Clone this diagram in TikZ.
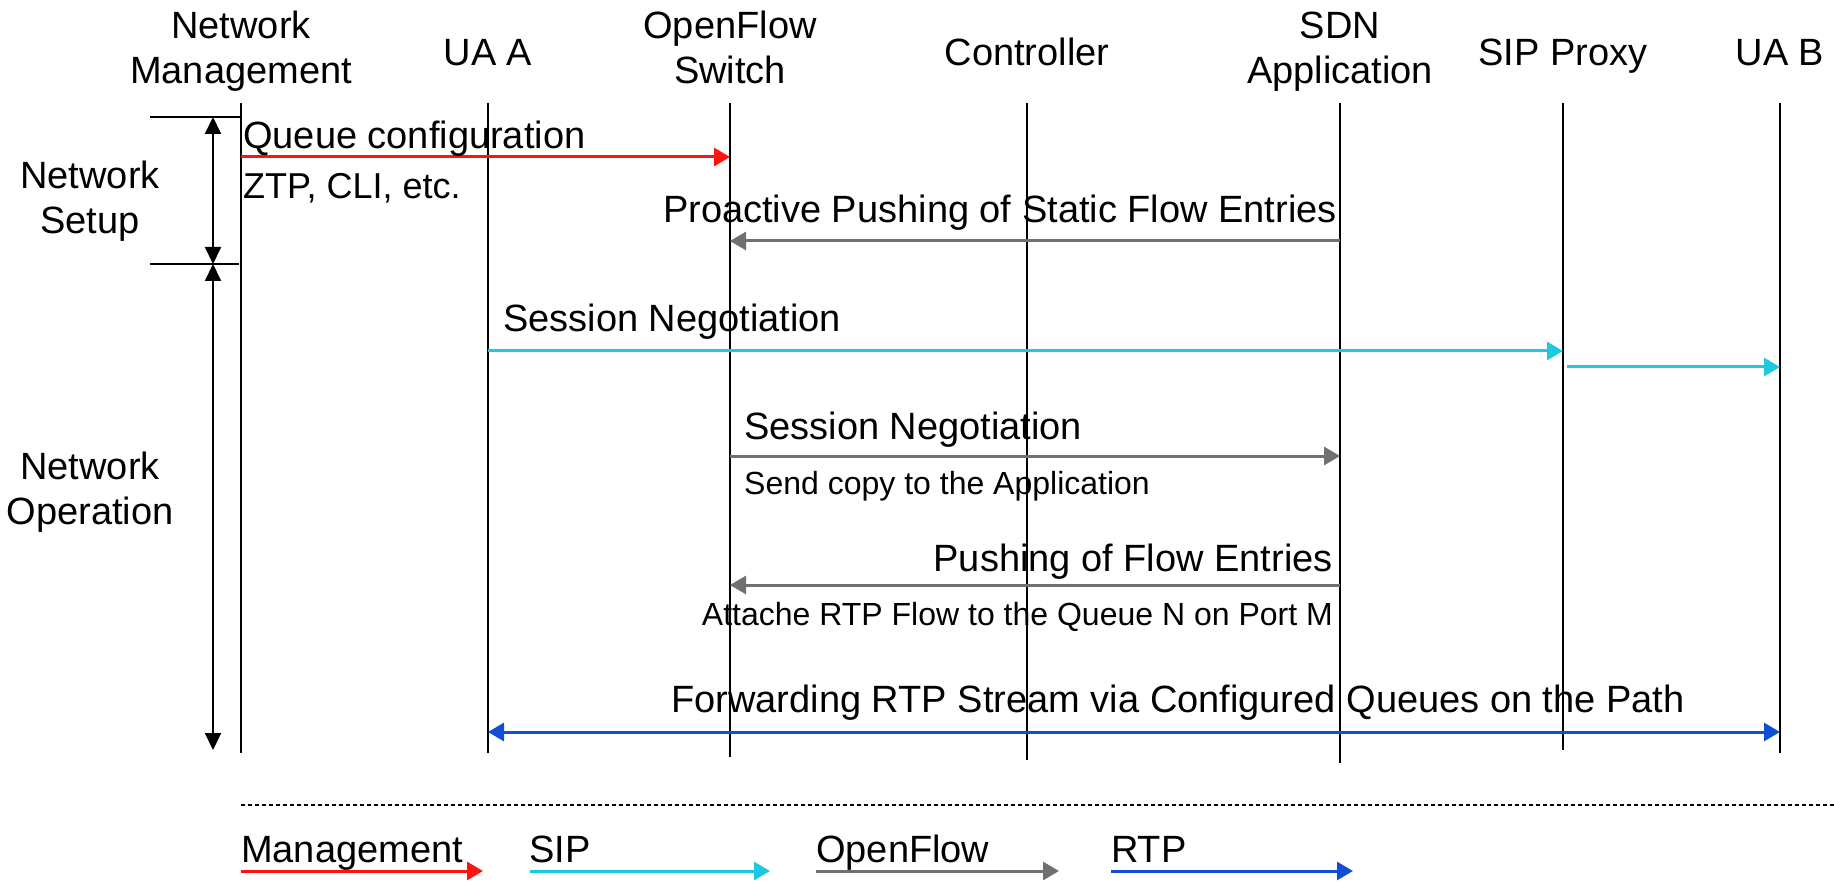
\documentclass[tikz,border=0pt]{standalone}
\usepackage{fontspec}
\setmainfont{Liberation Sans}
\usetikzlibrary{arrows.meta}
\definecolor{mgmtred}{RGB}{255,18,18}
\definecolor{sipcyan}{RGB}{30,200,222}
\definecolor{ofgray}{RGB}{112,112,112}
\definecolor{rtpblue}{RGB}{16,78,214}

\begin{document}
\begin{tikzpicture}[x=1pt,y=-1pt,
  lifeline/.style={line width=2pt,black},
  tip/.style={-{Triangle[length=16pt,width=18pt]}},
  msg/.style={line width=3pt,tip},
  mgmt/.style={msg,draw=mgmtred,-{Triangle[length=16pt,width=18pt,fill=mgmtred]}},
  sipmsg/.style={msg,draw=sipcyan},
  ofmsg/.style={msg,draw=ofgray},
  rtpmsg/.style={line width=3pt,draw=rtpblue,{Triangle[length=16pt,width=18pt]}-{Triangle[length=16pt,width=18pt]}},
  phase/.style={line width=2pt,black,{Triangle[length=17pt,width=16pt]}-{Triangle[length=17pt,width=16pt]}},
  tick/.style={line width=2pt,black},
  big/.style={font=\fontsize{38}{45}\selectfont,inner sep=0pt},
  mid/.style={font=\fontsize{36}{42}\selectfont,inner sep=0pt},
  small/.style={font=\fontsize{32}{38}\selectfont,inner sep=0pt},
  head/.style={big,align=center,anchor=base},
]
\useasboundingbox (0,0) rectangle (1834,882);

% participants (base = baseline of the last line)
\node[head] (hnm)  at (241,84)  {Network\\Management};
\node[head] (huaa) at (488,66)  {UA A};
\node[head] (hofs) at (730,84)  {OpenFlow\\Switch};
\node[head] (hctl) at (1027,66) {Controller};
\node[head] (hsdn) at (1340,84) {SDN\\Application};
\node[head] (hsip) at (1563,66) {SIP Proxy};
\node[head] (huab) at (1780,66) {UA B};

% lifelines
\coordinate (nm)  at (241,103);  \coordinate (nm-end)  at (241,753);
\coordinate (uaa) at (488,103);  \coordinate (uaa-end) at (488,753);
\coordinate (ofs) at (730,103);  \coordinate (ofs-end) at (730,757);
\coordinate (ctl) at (1027,103); \coordinate (ctl-end) at (1027,760);
\coordinate (sdn) at (1340,103); \coordinate (sdn-end) at (1340,763);
\coordinate (sip) at (1563,103); \coordinate (sip-end) at (1563,750);
\coordinate (uab) at (1780,103); \coordinate (uab-end) at (1780,753);
\foreach \p in {nm,uaa,ofs,ctl,sdn,sip,uab}
  \draw[lifeline] (\p) -- (\p-end);

% phases
\coordinate (setup-top) at (150,117);
\coordinate (setup-bot) at (150,264);
\coordinate (oper-bot)  at (150,750);
\draw[tick] (setup-top) -- (nm |- setup-top);
\draw[tick] (setup-bot) -- ([xshift=-2pt]nm |- setup-bot);
\coordinate (ph) at (213,0);
\draw[phase] (ph |- setup-top) -- (ph |- setup-bot);
\draw[phase] (ph |- setup-bot) -- (ph |- oper-bot);
\node[head] (setup) at (90,234) {Network\\Setup};
\node[head] (oper)  at (90,524) {Network\\Operation};

% message rows
\coordinate (m1) at (0,157);
\coordinate (m2) at (0,241);
\coordinate (m3) at (0,351);
\coordinate (m3b) at (0,367);
\coordinate (m4) at (0,456);
\coordinate (m5) at (0,585);
\coordinate (m6) at (0,732);

% queue configuration
\draw[mgmt] (nm |- m1) -- (ofs |- m1);
\node[big,anchor=base west] (q1) at (243,149) {Queue configuration};
\node[mid,anchor=base west] (q2) at (243,199) {ZTP, CLI, etc.};

% static flow entries
\draw[ofmsg] (sdn |- m2) -- (ofs |- m2);
\node[big,anchor=base east] (p1) at (1337,223) {Proactive Pushing of Static Flow Entries};

% SIP session negotiation
\draw[sipmsg] (uaa |- m3) -- (sip |- m3);
\draw[sipmsg] ([xshift=4pt]sip |- m3b) -- (uab |- m3b);
\node[big,anchor=base west] (s1) at (503,332) {Session Negotiation};

% copy to the application
\draw[ofmsg] (ofs |- m4) -- (sdn |- m4);
\node[big,anchor=base west] (s2) at (744,439) {Session Negotiation};
\node[small,anchor=base west] (s3) at (744,494) {Send copy to the Application};

% flow entries
\draw[ofmsg] (sdn |- m5) -- (ofs |- m5);
\node[big,anchor=base east] (f1) at (1333,571) {Pushing of Flow Entries};
\node[small,anchor=base east] (f2) at (1333,625) {Attache RTP Flow to the Queue N on Port M};

% media stream
\draw[rtpmsg] (uaa |- m6) -- (uab |- m6);
\node[big,anchor=base] (r1) at (1178,712) {Forwarding RTP Stream via Configured Queues on the Path};

% legend
\coordinate (sep-l) at (241,805);
\coordinate (sep-r) at (1834,805);
\draw[line width=2.5pt,dash pattern=on 4pt off 3pt] (sep-l) -- (sep-r);

\node[big,anchor=base west] (lg1) at (241,862) {Management};
\node[big,anchor=base west] (lg2) at (529,862) {SIP};
\node[big,anchor=base west] (lg3) at (816,862) {OpenFlow};
\node[big,anchor=base west] (lg4) at (1111,862) {RTP};
\coordinate (a1) at (241,871);  \coordinate (b1) at (483,871);
\coordinate (a2) at (530,871);  \coordinate (b2) at (770,871);
\coordinate (a3) at (816,871);  \coordinate (b3) at (1059,871);
\coordinate (a4) at (1111,871); \coordinate (b4) at (1353,871);
\draw[mgmt] (a1) -- (b1);
\draw[sipmsg] (a2) -- (b2);
\draw[ofmsg] (a3) -- (b3);
\draw[msg,draw=rtpblue] (a4) -- (b4);
\end{tikzpicture}
\end{document}
